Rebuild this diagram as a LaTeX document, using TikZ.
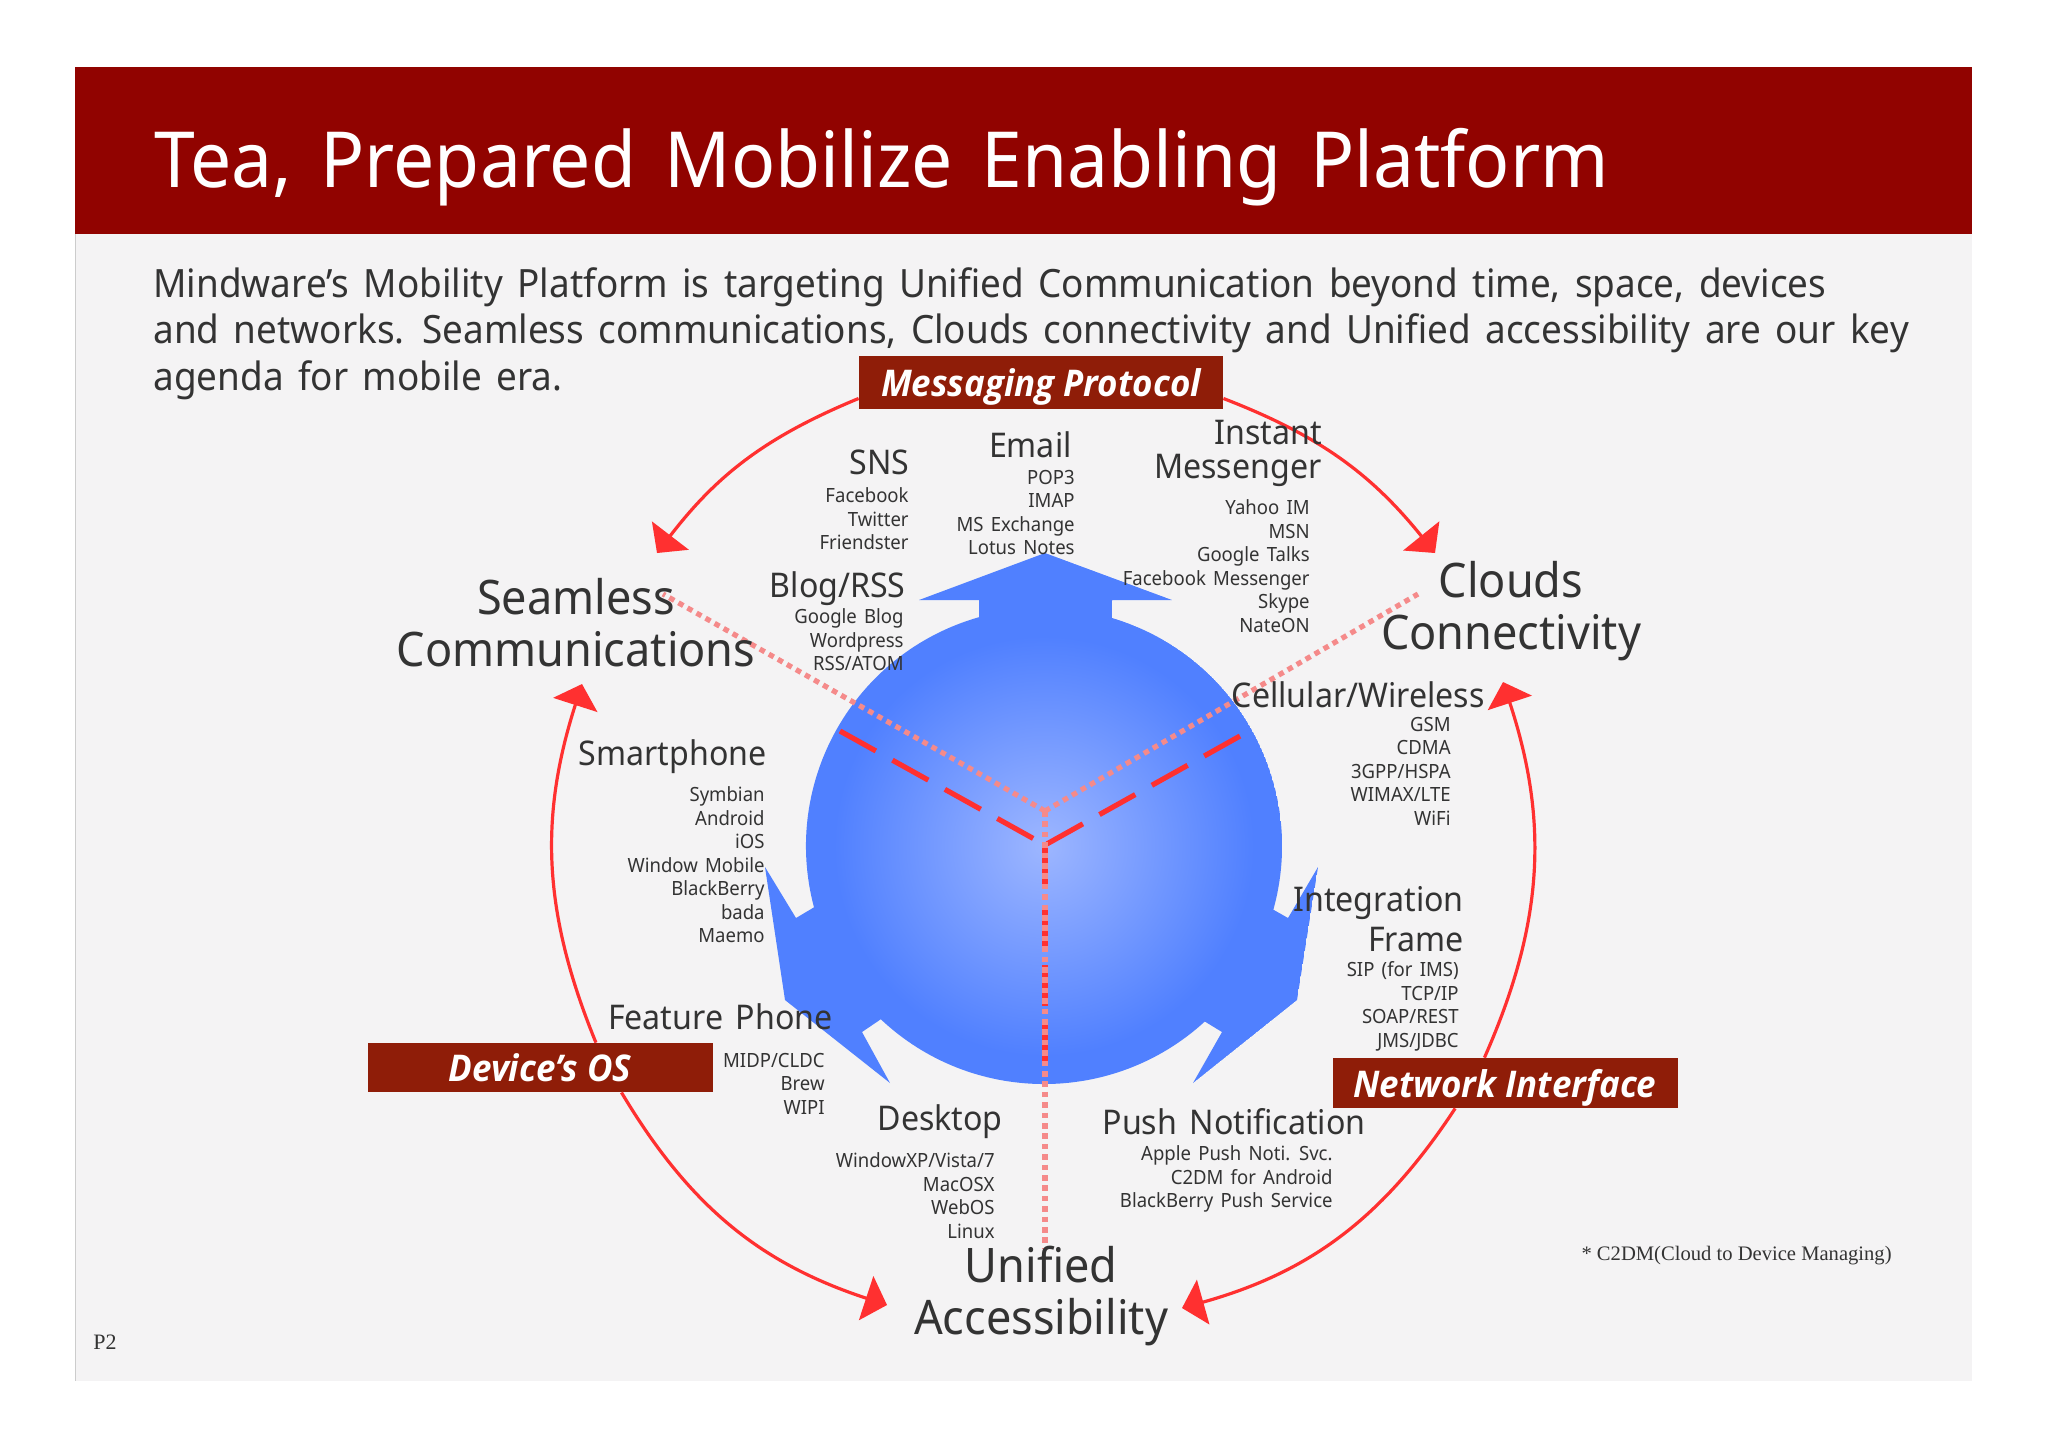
\documentclass[tikz,border=0pt]{standalone}
\usepackage{fontspec}
\usetikzlibrary{arrows.meta}
\setmainfont{Noto Sans}[FakeStretch=0.946,WordSpace=1.5]
\newfontfamily\notefont{Liberation Serif}
\newfontfamily\bannerfont{Open Sans}[FakeStretch=0.95]
\definecolor{slidebg}{HTML}{F4F3F4}
\definecolor{headred}{HTML}{910300}
\definecolor{bannerred}{HTML}{8F1D08}
\definecolor{ringred}{HTML}{FF3030}
\definecolor{dotpink}{HTML}{F58A8A}
\definecolor{ballblue}{HTML}{5080FF}
\definecolor{ballpale}{HTML}{9DB6FF}
\definecolor{inkgrey}{HTML}{333333}
\tikzset{banner/.style={fill=bannerred,text=white,inner sep=0pt,text height=17pt,text depth=3pt,font=\bannerfont\fontsize{18.4}{20}\selectfont\bfseries\itshape}}
\tikzset{ring/.style={draw=ringred,line width=1.6pt,-{Triangle[length=11pt,width=23pt]}}}
\tikzset{spoke/.style={draw=ringred,line width=2.6pt,dash pattern=on 20.5pt off 9.5pt}}
\tikzset{dots/.style={draw=dotpink,line width=2.6pt,dash pattern=on 2.8pt off 2.4pt}}
\tikzset{head/.style={text=inkgrey,inner sep=0pt,align=right,font=\fontsize{17}{17}\selectfont}}
\tikzset{items/.style={text=inkgrey,inner sep=0pt,align=right,anchor=north east,yshift=-1.7pt,font=\fontsize{9.8}{11.75}\selectfont}}
\tikzset{goal/.style={text=inkgrey,inner sep=0pt,align=center,font=\fontsize{23.8}{26}\selectfont}}
\newcommand{\blobpath}{(919,600) -- (1045,553) -- (1172,600) -- (1112,600) -- (1112,618)
    arc[start angle=73.4,end angle=-15.5,radius=119pt] -- (1288,918) -- (1318,867) -- (1297,1000)
    -- (1193,1083) -- (1222,1032) -- (1204.8,1021.5)
    arc[start angle=-47.5,end angle=-133.3,radius=119pt]
    -- (862,1032) -- (890,1083) -- (785,1000) -- (765,867) -- (796,918) -- (814,907.3)
    arc[start angle=194.9,end angle=105.8,radius=119pt] -- (979,600) -- cycle}
\begin{document}
\begin{tikzpicture}[x=0.5pt,y=-0.5pt]
    \useasboundingbox (0,0) rectangle (2048,1448);
    % Slide and header
    \fill[white] (0,0) rectangle (2048,1448);
    \fill[slidebg] (75,67) rectangle (1972,1381);
    \draw[black!20,line width=.5pt] (75,67) -- (75,1381);
    \node[fill=headred,minimum width=948.5pt,minimum height=83.5pt,inner sep=0pt,anchor=north west] (header) at (75,67) {};
    \node[anchor=base west,inner sep=0pt,text=white,font=\fontsize{38.7}{40}\selectfont] (title) at (154,187) {Tea, Prepared Mobilize Enabling Platform};
    \node[anchor=north west,inner sep=0pt,text=inkgrey,align=left,font=\fontsize{19.5}{23.25}\selectfont] (intro) at (153,267)
        {Mindware's Mobility Platform is targeting Unified Communication beyond time, space, devices\\
         and networks. Seamless communications, Clouds connectivity and Unified accessibility are our key\\
         agenda for mobile era.};
    % Ball with the three arrows
    \begin{scope}
        \clip \blobpath;
        \fill[ballblue] \blobpath;
        \shade[inner color=ballpale,outer color=ballblue] (1044,846) circle[radius=105pt];
    \end{scope}
    % Centre lines
    \coordinate (redhub) at (1045,845);
    \coordinate (dothub) at (1045,811);
    \coordinate (redleft) at (840,731);
    \coordinate (redright) at (1240,736);
    \coordinate (reddown) at (1045,1083);
    \coordinate (dotleft) at (663,594);
    \coordinate (dotright) at (1418,594);
    \coordinate (dotdown) at (1045,1248);
    \draw[spoke] (redleft) -- (redhub);
    \draw[spoke] (redright) -- (redhub);
    \draw[spoke] (redhub) -- (reddown);
    \draw[dots] (dothub) -- (dotleft);
    \draw[dots] (dothub) -- (dotright);
    \draw[dots] (dothub) -- (dotdown);
    % Banners
    \node[banner,minimum width=182pt,minimum height=26.5pt] (messaging) at (1041,382.5) {Messaging Protocol};
    \node[banner,minimum width=172.5pt,minimum height=24.5pt] (deviceos) at (540,1067.5) {Device’s OS};
    \node[banner,minimum width=172.5pt,minimum height=25pt] (network) at (1505,1083) {Network Interface};
    % Outer ring
    \coordinate (seamtip) at (657,553);
    \coordinate (cloudtip) at (1435,553);
    \coordinate (seamup) at (582,684);
    \coordinate (cloudup) at (1503,682);
    \coordinate (unileft) at (887,1305);
    \coordinate (uniright) at (1182,1308);
    \draw[ring] (messaging.185.6) to[bend right=15] (seamtip);
    \draw[ring] (messaging.-5.6) to[bend left=15] (cloudtip);
    \draw[ring] (deviceos.24) to[bend left=20] (seamup);
    \draw[ring] (deviceos.-17.3) to[bend right=20.5] (unileft);
    \draw[ring] (network.129) to[bend right=21] (cloudup);
    \draw[ring] (network.207) to[bend left=20.5] (uniright);
    % Goals
    \node[goal] (seamless) at (576,623) {Seamless\\Communications};
    \node[goal] (clouds) at (1511,611) {Clouds\\Connectivity};
    \node[goal] (unified) at (1041,1296) {Unified\\Accessibility};
    % Groups
    \node[head,anchor=base east] (sns) at (910,474) {SNS};
    \node[items] (snsitems) at (909,484) {Facebook\\Twitter\\Friendster};
    \node[head,anchor=base east] (email) at (1072,457) {Email};
    \node[items] (emailitems) at (1075,466) {POP3\\IMAP\\MS Exchange\\Lotus Notes};
    \node[head,anchor=north east] (messenger) at (1322,420) {Instant\\Messenger};
    \node[items] (messengeritems) at (1310,496) {Yahoo IM\\MSN\\Google Talks\\Facebook Messenger\\Skype\\NateON};
    \node[head,anchor=base east] (blog) at (906,597) {Blog/RSS};
    \node[items] (blogitems) at (904,605) {Google Blog\\Wordpress\\RSS/ATOM};
    \node[head,anchor=base east] (cellular) at (1485,707) {Cellular/Wireless};
    \node[items] (cellularitems) at (1451,713) {GSM\\CDMA\\3GPP/HSPA\\WIMAX/LTE\\WiFi};
    \node[head,anchor=base east] (smartphone) at (767,765) {Smartphone};
    \node[items] (smartphoneitems) at (765,783) {Symbian\\Android\\iOS\\Window Mobile\\BlackBerry\\bada\\Maemo};
    \node[head,anchor=north east,font=\fontsize{17}{20}\selectfont] (integration) at (1464,886) {Integration\\Frame};
    \node[items] (integrationitems) at (1459,958) {SIP (for IMS)\\TCP/IP\\SOAP/REST\\JMS/JDBC};
    \node[head,anchor=base east] (feature) at (833,1029) {Feature Phone};
    \node[items] (featureitems) at (825,1049) {MIDP/CLDC\\Brew\\WIPI};
    \node[head,anchor=base east] (desktop) at (1003,1130) {Desktop};
    \node[items] (desktopitems) at (995,1149) {WindowXP/Vista/7\\MacOSX\\WebOS\\Linux};
    \node[head,anchor=base east] (push) at (1366,1134) {Push Notification};
    \node[items] (pushitems) at (1333,1142) {Apple Push Noti. Svc.\\C2DM for Android\\BlackBerry Push Service};
    % Notes
    \node[anchor=east,inner sep=0pt,text=inkgrey,font=\notefont\fontsize{10.3}{12}\selectfont] (note) at (1892,1256) {* C2DM(Cloud to Device Managing)};
    \node[anchor=west,inner sep=0pt,text=inkgrey,font=\notefont\fontsize{11}{12}\selectfont] (page) at (93,1342) {P2};
\end{tikzpicture}
\end{document}
